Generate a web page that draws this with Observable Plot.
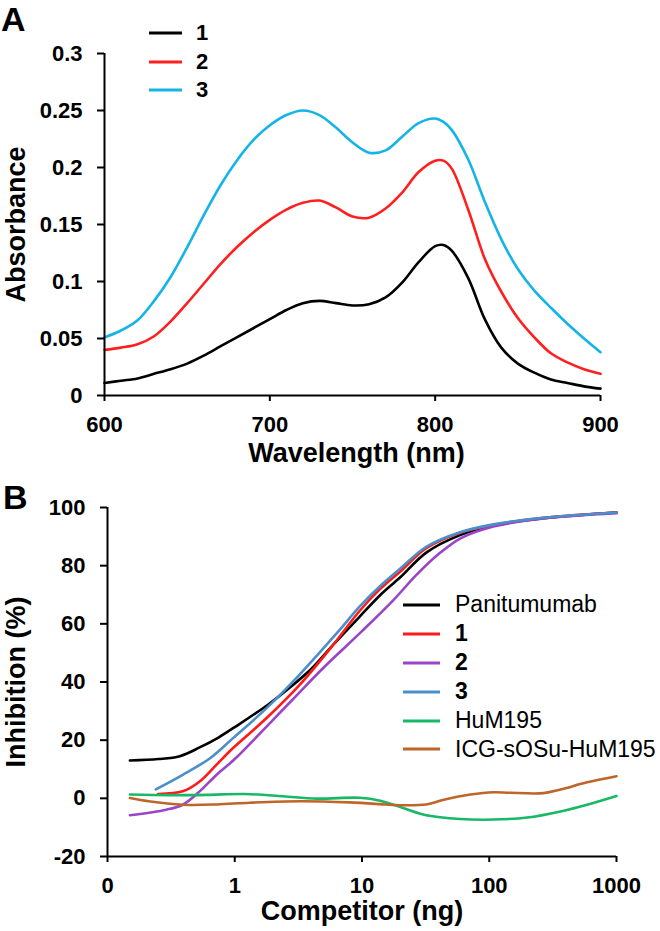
<!DOCTYPE html>
<html><head><meta charset="utf-8">
<script src="https://cdn.jsdelivr.net/npm/d3@7"></script>
<script src="https://cdn.jsdelivr.net/npm/@observablehq/plot@0.6"></script>
<style>
body{margin:0;background:#fff;font-family:"Liberation Sans",Arial,sans-serif;}
#wrap{position:relative;width:660px;height:931px;overflow:hidden;background:#fff;}
.panel{position:absolute;left:0;}
.plabel{position:absolute;font-weight:bold;font-size:34px;line-height:normal;color:#000;}
.leg{position:absolute;}
.row{display:flex;align-items:center;}
.row svg{display:block;}
</style></head><body><div id="wrap">
<div class="panel" id="pa" style="top:0"></div>
<div class="panel" id="pb" style="top:470px"></div>
<div class="plabel" style="left:1px;top:0px">A</div>
<div class="plabel" style="left:3px;top:478px">B</div>
</div>
<script>
// ---------- Panel A data (absorbance spectra) ----------
const wavelengths = [600,610,620,630,640,650,660,670,680,690,700,710,720,730,740,750,760,770,780,790,800,805,810,820,830,840,850,860,870,880,890,900];
const abs1 = [0.011,0.013,0.015,0.019,0.023,0.028,0.035,0.043,0.051,0.059,0.067,0.075,0.081,0.083,0.081,0.079,0.080,0.086,0.099,0.117,0.131,0.132,0.127,0.103,0.067,0.042,0.028,0.020,0.014,0.011,0.008,0.006];
const abs2 = [0.040,0.042,0.045,0.052,0.065,0.081,0.098,0.115,0.130,0.143,0.154,0.163,0.169,0.171,0.165,0.157,0.156,0.164,0.178,0.196,0.206,0.206,0.199,0.163,0.120,0.091,0.068,0.051,0.037,0.029,0.023,0.019];
const abs3 = [0.051,0.057,0.066,0.083,0.104,0.130,0.158,0.184,0.206,0.224,0.237,0.246,0.250,0.246,0.235,0.222,0.213,0.215,0.227,0.239,0.243,0.240,0.233,0.207,0.170,0.137,0.111,0.092,0.077,0.063,0.050,0.038];
const seriesA = ["1","2","3"];
const wlTicks = [600,700,800,900];
const absTicks = [0,0.05,0.1,0.15,0.2,0.25,0.3];

// ---------- Panel B data (competition binding) ----------
const seriesB = ["Panitumumab","1","2","3","HuM195","ICG-sOSu-HuM195"];
const panX = [0.15,0.25,0.37,0.53,0.75,1,1.8,2.7,4.1,6,9.6,14,20,32,59,108,267,1000];
const panY = [13,13.5,14.5,17.5,21,24.5,32,38,45,53,62.5,70,76,84.5,90.5,93.8,96.3,98.3];
const c1X = [0.25,0.39,0.53,0.72,0.97,1.78,3.25,5.94,9.6,13.9,20,32,59,108,267,1000];
const c1Y = [1.5,2.4,5.8,11.6,17.3,27.6,39.1,52.8,64.5,72,78,86,91.3,94,96.5,98.3];
const c2X = [0.15,0.29,0.39,0.53,0.72,1,2,3,5,10,17.5,27,40,60,108,267,1000];
const c2Y = [-5.8,-3.9,-2.2,2.4,8.1,13.5,27,35,45,57.5,68,77,84,89.5,93.5,96.2,98];
const c3X = [0.24,0.39,0.64,0.97,1.78,2.88,4.4,6.7,9.6,13.9,20,32,59,108,267,1000];
const c3Y = [3.1,8.1,13.8,20.7,31,40.2,49,58,66,73,79,86.5,91.5,94.2,96.5,98.3];
const humX = [0.15,0.3,0.6,1.2,2.4,4.4,9.6,13.9,21,32,59,108,199,363,587,1000];
const humY = [1.3,1.1,1.2,1.5,0.7,-0.1,0.2,-0.8,-3.3,-5.8,-7.1,-7.3,-6.6,-4.5,-2.2,0.8];
const icgX = [0.15,0.21,0.39,0.72,1.31,3.25,8,13.9,17.5,32,44,71,108,146,267,363,587,1000];
const icgY = [0.1,-1,-2.2,-2.1,-1.5,-1,-1.4,-2,-2.3,-2.1,-0.5,1.3,2.1,1.9,1.8,3,5.5,7.6];
const compTicks = [0.1,1,10,100,1000];
const inhTicks = [-20,0,20,40,60,80,100];

// ---------- styles ----------
const FONT = "'Liberation Sans', Arial, sans-serif";
const colorsA = ["#000000","#ff1f1f","#14b4e8"];
const colorsB = ["#000000","#ff1a1a","#9a45c8","#4a8fcb","#19b866","#c0652a"];
const boldB = [false,true,true,true,false,false];

const dataA = [];
[abs1,abs2,abs3].forEach((arr,i)=>arr.forEach((v,j)=>dataA.push({s:seriesA[i], wl:wavelengths[j], v})));
const dataB = [];
[[panX,panY],[c1X,c1Y],[c2X,c2Y],[c3X,c3Y],[humX,humY],[icgX,icgY]].forEach(([xs,ys],i)=>xs.forEach((x,j)=>dataB.push({s:seriesB[i], x, y:ys[j]})));

const axisText = {fontSize: 22, fontWeight: "bold", fontFamily: FONT};
const titleText = {fontSize: 27, fontWeight: "bold", fontFamily: FONT, fill: "#000", textAnchor: "middle", lineAnchor: "middle"};

const chartA = Plot.plot({
  width: 660, height: 470,
  marginLeft: 104, marginRight: 60, marginTop: 53, marginBottom: 75,
  style: {fontFamily: FONT, background: "transparent", overflow: "visible"},
  x: {domain: [wlTicks[0], wlTicks[wlTicks.length-1]]},
  y: {domain: [absTicks[0], absTicks[absTicks.length-1]]},
  color: {domain: seriesA, range: colorsA},
  marks: [
    Plot.line(dataA, {x: "wl", y: "v", stroke: "s", z: "s", strokeWidth: 2.6, curve: "catmull-rom"}),
    Plot.ruleX([wlTicks[0]], {stroke: "#000", strokeWidth: 2}),
    Plot.ruleY([absTicks[0]], {stroke: "#000", strokeWidth: 2}),
    Plot.axisX({ticks: wlTicks, tickSize: 6, tickPadding: 15, label: null, strokeWidth: 2, tickFormat: d => String(d), ...axisText}),
    Plot.axisY({ticks: absTicks, tickSize: 7, tickPadding: 15, label: null, strokeWidth: 2, tickFormat: d => String(+d.toFixed(2)), ...axisText}),
    Plot.text(["Wavelength (nm)"], {frameAnchor: "bottom", dy: 58, dx: 4, ...titleText}),
    Plot.text(["Absorbance"], {frameAnchor: "left", rotate: -90, dx: -88, ...titleText})
  ]
});
document.getElementById("pa").appendChild(chartA);

const chartB = Plot.plot({
  width: 660, height: 461,
  marginLeft: 107, marginRight: 44, marginTop: 37, marginBottom: 75,
  style: {fontFamily: FONT, background: "transparent", overflow: "visible"},
  x: {type: "log", domain: [compTicks[0], compTicks[compTicks.length-1]]},
  y: {domain: [inhTicks[0], inhTicks[inhTicks.length-1]]},
  color: {domain: seriesB, range: colorsB},
  marks: [
    Plot.line(dataB, {x: "x", y: "y", stroke: "s", z: "s", strokeWidth: 2.6, curve: "catmull-rom"}),
    Plot.ruleX([compTicks[0]], {stroke: "#000", strokeWidth: 2}),
    Plot.ruleY([inhTicks[0]], {stroke: "#000", strokeWidth: 2}),
    Plot.axisX({ticks: compTicks, tickSize: 6, tickPadding: 15, label: null, strokeWidth: 2, tickFormat: d => d < 1 ? "0" : String(d), ...axisText}),
    Plot.axisY({ticks: inhTicks, tickSize: 7, tickPadding: 15, label: null, strokeWidth: 2, tickFormat: d => String(d), ...axisText}),
    Plot.text(["Competitor (ng)"], {frameAnchor: "bottom", dy: 55, ...titleText}),
    Plot.text(["Inhibition (%)"], {frameAnchor: "left", rotate: -90, dx: -91, ...titleText})
  ]
});
document.getElementById("pb").appendChild(chartB);

// ---------- legends ----------
function legend(names, colors, bolds, o) {
  const box = document.createElement("div");
  box.className = "leg";
  box.style.left = o.left + "px";
  box.style.top = o.top + "px";
  names.forEach((n, i) => {
    const row = document.createElement("div");
    row.className = "row";
    row.style.height = o.rowH + "px";
    row.innerHTML = `<svg width="${o.lineW}" height="6"><line x1="0" x2="${o.lineW}" y1="3" y2="3" stroke="${colors[i]}" stroke-width="3"/></svg>` +
      `<span style="margin-left:${o.gap}px;font-size:${o.fontSize}px;font-weight:${bolds[i] ? "bold" : "normal"};font-family:${FONT};line-height:1;color:#000;white-space:nowrap">${n}</span>`;
    box.appendChild(row);
  });
  document.getElementById("wrap").appendChild(box);
}
legend(seriesA, colorsA, [true,true,true], {left: 149, top: 19, rowH: 28.5, lineW: 33, gap: 14, fontSize: 22});
legend(seriesB, colorsB, boldB, {left: 403, top: 590.5, rowH: 28.9, lineW: 37, gap: 15, fontSize: 23});
</script>
</body></html>
